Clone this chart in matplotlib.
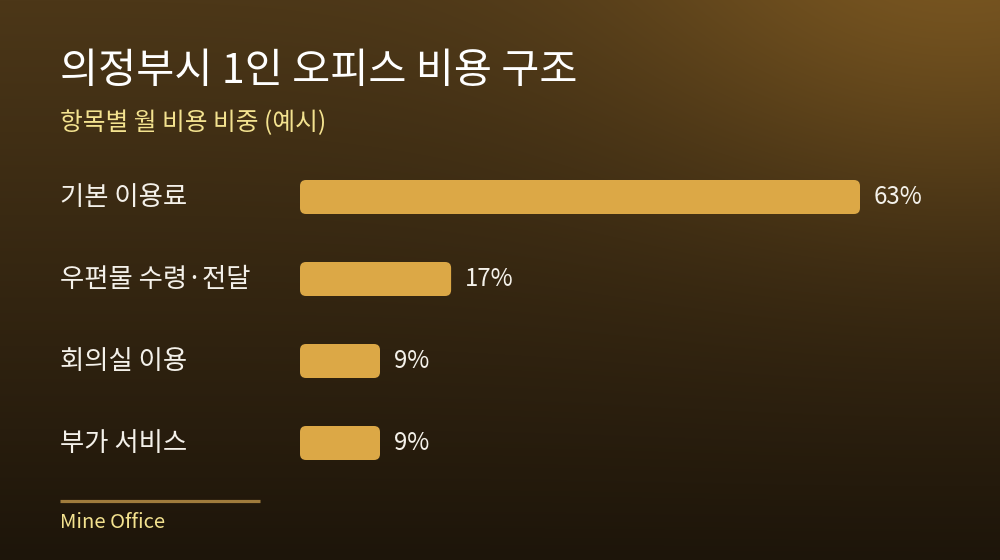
import numpy as np
import matplotlib
matplotlib.use("Agg")
import matplotlib.pyplot as plt
from matplotlib.patches import FancyBboxPatch
from matplotlib.transforms import blended_transform_factory

plt.rcParams['font.family'] = ['Noto Sans CJK KR', 'DejaVu Sans']

# ---- data ----
title = "의정부시 1인 오피스 비용 구조"
subtitle = "항목별 월 비용 비중 (예시)"
categories = ["기본 이용료", "우편물 수령·전달", "회의실 이용", "부가 서비스"]
values = [63, 17, 9, 9]
source = "Mine Office"

W, H = 1000, 560
fig = plt.figure(figsize=(W / 100, H / 100), dpi=100)

# ---- background gradient ----
bg_ax = fig.add_axes([0, 0, 1, 1])
bg_ax.set_xlim(0, W)
bg_ax.set_ylim(H, 0)
bg_ax.axis('off')
yy, xx = np.mgrid[0:H, 0:W]
t = yy / H
top = np.array([0x4c, 0x37, 0x18]) / 255
bot = np.array([0x1d, 0x15, 0x0a]) / 255
base = top[None, None, :] * (1 - t[..., None]) + bot[None, None, :] * t[..., None]
d2 = (xx - 960) ** 2 + ((yy + 40) * 1.3) ** 2
glow = np.exp(-d2 / (2 * 240.0 ** 2))
glow_col = np.array([0x2a, 0x1d, 0x08]) / 255
img = np.clip(base + glow[..., None] * glow_col[None, None, :], 0, 1)
bg_ax.imshow(img, extent=[0, W, H, 0], aspect='auto', zorder=0)

# ---- bars axes ----
px_per_unit_x = 560 / 63.0
x_left_px = 300
xmax = 70
ax_w_px = xmax * px_per_unit_x
top_px, bot_px = 156, 484
ax = fig.add_axes([x_left_px / W, (H - bot_px) / H, ax_w_px / W, (bot_px - top_px) / H])
ax.set_xlim(0, xmax)
ax.set_ylim(len(categories) - 0.5, -0.5)
ax.axis('off')
ax.patch.set_alpha(0)

bar_h = 34 / 82.0
px_per_unit_y = 82.0
rounding_px = 6
aspect = px_per_unit_x / px_per_unit_y
for i, v in enumerate(values):
    p = FancyBboxPatch((0, i - bar_h / 2), v, bar_h,
                       boxstyle=f"round,pad=0,rounding_size={rounding_px / px_per_unit_x}",
                       mutation_aspect=aspect,
                       facecolor="#DCA846", edgecolor="none", zorder=2)
    ax.add_patch(p)
    ax.annotate(f"{v}%", xy=(v, i), xytext=(14, 0), textcoords='offset pixels',
                ha='left', va='center', fontsize=17.3, color="#F4F1EA",
                annotation_clip=False)

trans = blended_transform_factory(fig.transFigure, ax.transData)
for i, c in enumerate(categories):
    ax.text(60 / W, i + 0.01, c, transform=trans, ha='left', va='center',
            fontsize=19, color="#F4F1EA")

# ---- titles ----
fig.text(60 / W, 1 - 71 / H, title, ha='left', va='center', fontsize=29.8,
         color="#FFFFFF", fontweight='medium')
fig.text(60 / W, 1 - 123 / H, subtitle, ha='left', va='center', fontsize=17.8,
         color="#F3E28F")

# ---- footer ----
bg_ax.plot([60, 260], [500.5, 500.5], color="#A07C3C", lw=2.3, solid_capstyle='butt', zorder=3)
fig.text(60 / W, 1 - 522 / H, source, ha='left', va='center', fontsize=14.6,
         color="#F3E28F")

fig.savefig("out.png", dpi=100)
